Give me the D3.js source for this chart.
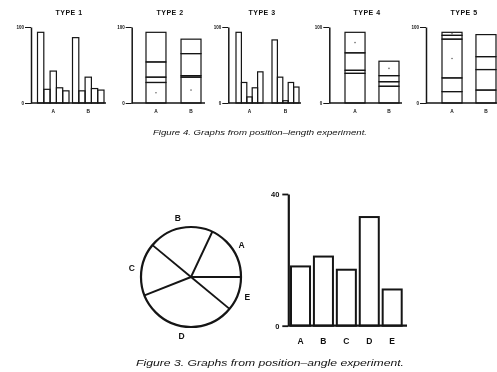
<!DOCTYPE html>
<html><head><meta charset="utf-8">
<script src="https://cdn.jsdelivr.net/npm/d3@7"></script>
<style>
html,body{margin:0;padding:0;background:#fff;}
svg{display:block;filter:blur(0.35px);}
text{font-family:"Liberation Sans",Arial,sans-serif;fill:#111;}
</style></head><body>
<svg id="c" width="497" height="372"></svg>
<script>
// ---- data ----
const groups = ["A", "B"];
const panelTitles = ["TYPE 1", "TYPE 2", "TYPE 3", "TYPE 4", "TYPE 5"];
const topTicks = [0, 100];
// grouped bars (types 1 and 3), five bars per group
const type1A = [93, 18, 42, 20, 16];
const type1B = [86, 16, 34, 19, 17];
const type3A = [93, 27, 8, 20, 41];
const type3B = [83, 34, 3, 27, 21];
// stacked bars (types 2, 4, 5), segments bottom -> top
const type2A = [27, 7, 20, 39];
const type2B = [34, 2, 29, 19];
const type4A = [39, 4, 23, 27];
const type4B = [22, 6, 8, 19];
const type5A = [15, 18, 51, 5, 4];
const type5B = [17, 27, 17, 29];
// segments marked with a dot
const dots2 = [[0], [0]];
const dots4 = [[3], [3]];
const dots5 = [[2, 4], []];
// position-angle experiment
const angleCats = ["A", "B", "C", "D", "E"];
const angleValues = [18, 21, 17, 33, 11];
const bottomTicks = [0, 40];
const caption4 = "Figure 4. Graphs from position\u2013length experiment.";
const caption3 = "Figure 3. Graphs from position\u2013angle experiment.";

// ---- drawing ----
const svg = d3.select("#c");
const INK = "#151515";
const yTop = d3.scaleLinear().domain([0, 100]).range([103, 27]);

const panels = [
  {kind: "grouped", data: [type1A, type1B], axisX: 31, x0: 37.5, x1: 104, end: 106, pad: 0.1, titleX: 69},
  {kind: "stacked", data: [type2A, type2B], dots: dots2, axisX: 131.7, x0: 146, x1: 201, end: 205, pad: 0.43, titleX: 170},
  {kind: "grouped", data: [type3A, type3B], axisX: 228.3, x0: 236, x1: 299, end: 301, pad: 0.25, titleX: 262},
  {kind: "stacked", data: [type4A, type4B], dots: dots4, axisX: 329.3, x0: 345, x1: 399, end: 402, pad: 0.41, titleX: 367},
  {kind: "stacked", data: [type5A, type5B], dots: dots5, axisX: 426, x0: 442, x1: 496, end: 497, pad: 0.41, titleX: 464}
];

panels.forEach((p, pi) => {
  const g = svg.append("g");
  const x = d3.scaleBand().domain(groups).range([p.x0, p.x1]).paddingInner(p.pad);
  g.append("text").attr("x", p.titleX).attr("y", 15).attr("text-anchor", "middle")
    .attr("font-size", 7).attr("font-weight", "bold").attr("letter-spacing", 0.5)
    .text(panelTitles[pi]);
  const ax = g.append("g").attr("transform", `translate(${p.axisX},0)`)
    .call(d3.axisLeft(yTop).tickValues(topTicks).tickSize(6).tickSizeOuter(0).tickPadding(1).tickFormat(d3.format("d")));
  ax.select(".domain").attr("stroke", INK).attr("stroke-width", 1.5);
  ax.selectAll(".tick line").attr("stroke", INK).attr("stroke-width", 1);
  ax.selectAll(".tick text").attr("font-size", 4.5).attr("font-weight", "bold")
    .attr("font-family", "Liberation Sans, Arial, sans-serif").attr("fill", INK);
  g.append("line").attr("x1", p.axisX).attr("x2", p.end).attr("y1", yTop(0)).attr("y2", yTop(0))
    .attr("stroke", INK).attr("stroke-width", 1.5);
  if (p.kind === "grouped") {
    const xi = d3.scaleBand().domain(d3.range(5)).range([0, x.bandwidth()]);
    groups.forEach((gr, gi) => {
      g.selectAll(null).data(p.data[gi]).join("rect")
        .attr("x", (d, i) => x(gr) + xi(i)).attr("width", xi.bandwidth())
        .attr("y", d => yTop(d)).attr("height", d => yTop(0) - yTop(d))
        .attr("fill", "none").attr("stroke", INK).attr("stroke-width", 1.2);
    });
  } else {
    groups.forEach((gr, gi) => {
      const segs = p.data[gi];
      const cum = Array.from(d3.cumsum(segs));
      const lows = [0].concat(cum.slice(0, -1));
      g.selectAll(null).data(segs).join("rect")
        .attr("x", x(gr)).attr("width", x.bandwidth())
        .attr("y", (d, i) => yTop(cum[i])).attr("height", (d, i) => yTop(lows[i]) - yTop(cum[i]))
        .attr("fill", "none").attr("stroke", INK).attr("stroke-width", 1.2);
      g.selectAll(null).data(p.dots[gi]).join("circle")
        .attr("cx", x(gr) + x.bandwidth() / 2)
        .attr("cy", k => yTop((cum[k] + lows[k]) / 2))
        .attr("r", 0.8).attr("fill", "#666");
    });
  }
  g.selectAll(null).data(groups).join("text")
    .attr("x", d => x(d) + x.bandwidth() / 2).attr("y", 113)
    .attr("text-anchor", "middle").attr("font-size", 4.8).attr("font-weight", "bold").text(d => d);
});

svg.append("text").attr("x", 260).attr("y", 135).attr("text-anchor", "middle")
  .attr("font-size", 7.2).attr("font-style", "italic")
  .attr("textLength", 214).attr("lengthAdjust", "spacingAndGlyphs").text(caption4);

// ---- pie ----
const cx = 191, cy = 277, R = 50;
const pie = d3.pie().sort(null).startAngle(Math.PI / 2).endAngle(Math.PI / 2 - 2 * Math.PI);
const arcs = pie(angleValues);
const pg = svg.append("g").attr("transform", `translate(${cx},${cy})`);
pg.append("circle").attr("r", R).attr("fill", "none").attr("stroke", INK).attr("stroke-width", 2.2);
pg.selectAll(null).data(arcs).join("line")
  .attr("x1", 0).attr("y1", 0)
  .attr("x2", d => R * Math.sin(d.startAngle)).attr("y2", d => -R * Math.cos(d.startAngle))
  .attr("stroke", INK).attr("stroke-width", 1.9);
pg.selectAll(null).data(arcs).join("text")
  .attr("x", d => 60 * Math.sin((d.startAngle + d.endAngle) / 2))
  .attr("y", d => -60 * Math.cos((d.startAngle + d.endAngle) / 2))
  .attr("text-anchor", "middle").attr("dy", "0.35em")
  .attr("font-size", 8.5).attr("font-weight", "bold")
  .text((d, i) => angleCats[i]);

// ---- bar chart ----
const xB = d3.scaleBand().domain(angleCats).range([291, 401.7]).paddingInner(0.17);
const yB = d3.scaleLinear().domain([0, 40]).range([325.7, 194]);
const axB = svg.append("g").attr("transform", "translate(288.3,0)")
  .call(d3.axisLeft(yB).tickValues(bottomTicks).tickSize(6).tickSizeOuter(0).tickPadding(3));
axB.select(".domain").attr("stroke", INK).attr("stroke-width", 2.2);
axB.selectAll(".tick line").attr("stroke", INK).attr("stroke-width", 1.8);
axB.selectAll(".tick text").attr("font-size", 7.5).attr("font-weight", "bold")
  .attr("font-family", "Liberation Sans, Arial, sans-serif").attr("fill", INK);
svg.append("line").attr("x1", 288.3).attr("x2", 407).attr("y1", yB(0)).attr("y2", yB(0))
  .attr("stroke", INK).attr("stroke-width", 2.2);
svg.selectAll(null).data(angleValues).join("rect")
  .attr("x", (d, i) => xB(angleCats[i])).attr("width", xB.bandwidth())
  .attr("y", d => yB(d)).attr("height", d => yB(0) - yB(d))
  .attr("fill", "none").attr("stroke", INK).attr("stroke-width", 2);
svg.selectAll(null).data(angleCats).join("text")
  .attr("x", d => xB(d) + xB.bandwidth() / 2).attr("y", 343.5)
  .attr("text-anchor", "middle").attr("font-size", 8.5).attr("font-weight", "bold").text(d => d);

svg.append("text").attr("x", 270).attr("y", 366).attr("text-anchor", "middle")
  .attr("font-size", 9).attr("font-style", "italic")
  .attr("textLength", 268).attr("lengthAdjust", "spacingAndGlyphs").text(caption3);
</script>
</body></html>
